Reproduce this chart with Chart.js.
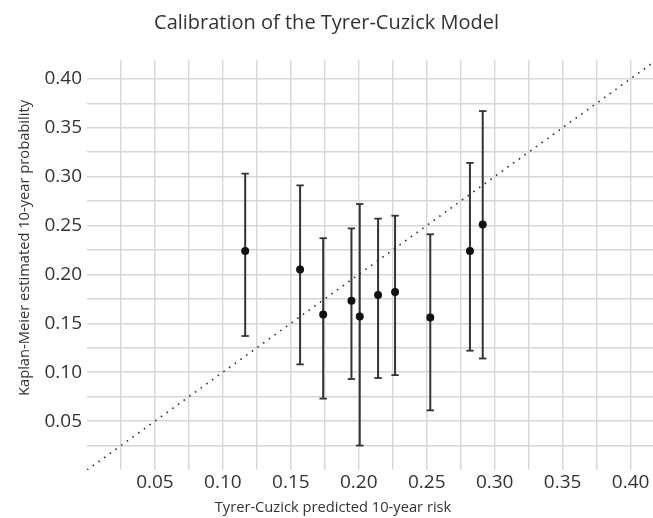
<!DOCTYPE html>
<html>
<head>
<meta charset="utf-8">
<script src="https://cdn.jsdelivr.net/npm/chart.js@4.4.0/dist/chart.umd.min.js"></script>
<style>
  html, body { margin: 0; padding: 0; background: #fff; }
  #wrap { width: 653px; height: 518px; }
</style>
</head>
<body>
<div id="wrap"><canvas id="calChart" width="653" height="518"></canvas></div>
<script>
// values
const predictedRisk = [0.1164, 0.1568, 0.1738, 0.1946, 0.2007, 0.2142, 0.2267, 0.2526, 0.2818, 0.2912];
const kmProbability = [0.224, 0.205, 0.159, 0.173, 0.157, 0.179, 0.182, 0.156, 0.224, 0.251];
const ciLower = [0.137, 0.108, 0.073, 0.093, 0.025, 0.094, 0.097, 0.061, 0.122, 0.114];
const ciUpper = [0.303, 0.291, 0.237, 0.247, 0.272, 0.257, 0.260, 0.241, 0.314, 0.367];

const xTickValues = [0.025, 0.05, 0.075, 0.10, 0.125, 0.15, 0.175, 0.20, 0.225, 0.25, 0.275, 0.30, 0.325, 0.35, 0.375, 0.40];
const xTickLabels = ['', '0.05', '', '0.10', '', '0.15', '', '0.20', '', '0.25', '', '0.30', '', '0.35', '', '0.40'];
const yTickValues = [0.025, 0.05, 0.075, 0.10, 0.125, 0.15, 0.175, 0.20, 0.225, 0.25, 0.275, 0.30, 0.325, 0.35, 0.375, 0.40];
const yTickLabels = ['', '0.05', '', '0.10', '', '0.15', '', '0.20', '', '0.25', '', '0.30', '', '0.35', '', '0.40'];

const chartTitle = 'Calibration of the Tyrer-Cuzick Model';
const xAxisTitle = 'Tyrer-Cuzick predicted 10-year risk';
const yAxisTitle = 'Kaplan-Meier estimated 10-year probability';

const identityLine = [0, 0.42];

const ink = '#333333';
const gridColor = '#d6d6d6';

// error bars: one segment per point, null breaks the line between them
let errorBarData = [];
predictedRisk.map((x, i) => {
    errorBarData.push({ x: x, y: ciLower[i] });
    errorBarData.push({ x: x, y: ciUpper[i] });
    errorBarData.push({ x: x, y: null });
});

// axis titles sit off-centre from the plot area in the original
const axisTitles = {
    id: 'axisTitles',
    afterDraw(chart) {
        const ctx = chart.ctx;
        ctx.save();
        ctx.fillStyle = ink;
        ctx.font = '14.7px "Open Sans"';
        ctx.textAlign = 'center';
        ctx.textBaseline = 'middle';
        ctx.fillText(xAxisTitle, 333, 508);
        ctx.translate(25, 248);
        ctx.rotate(-Math.PI / 2);
        ctx.fillText(yAxisTitle, 0, 0);
        ctx.restore();
    }
};

function drawChart(){
    Chart.defaults.font.family = '"Open Sans", sans-serif';
    Chart.defaults.color = ink;

    new Chart(document.getElementById('calChart'), {
        type: 'scatter',
        data: {
            datasets: [
                {
                    label: 'Observed',
                    data: predictedRisk.map((x, i) => ({ x: x, y: kmProbability[i] })),
                    pointRadius: 4,
                    pointBackgroundColor: '#111111',
                    pointBorderWidth: 0
                },
                {
                    label: '95% CI',
                    data: errorBarData,
                    showLine: true,
                    spanGaps: false,
                    borderColor: ink,
                    borderWidth: 2,
                    pointStyle: 'line',
                    pointRadius: 3.7,
                    pointBorderWidth: 1.8,
                    pointBorderColor: ink
                },
                {
                    label: 'Perfect calibration',
                    data: identityLine.map(v => ({ x: v, y: v })),
                    showLine: true,
                    borderColor: ink,
                    borderWidth: 1.6,
                    borderDash: [1.6, 5.4],
                    pointRadius: 0
                }
            ]
        },
        options: {
            responsive: false,
            animation: false,
            layout: { padding: 0, autoPadding: false },
            plugins: {
                legend: { display: false },
                tooltip: { enabled: false },
                title: {
                    display: true,
                    text: chartTitle,
                    color: ink,
                    font: { family: '"Open Sans"', size: 20, weight: 'normal' },
                    padding: { top: 11, bottom: 25 }
                }
            },
            scales: {
                x: {
                    type: 'linear',
                    min: 0,
                    max: 0.4165,
                    afterBuildTicks: s => { s.ticks = xTickValues.map(v => ({ value: v })); },
                    afterFit: s => { s.height = 48; s.paddingLeft = 0; s.paddingRight = 0; },
                    grid: { color: gridColor, lineWidth: 1.4, drawTicks: false },
                    border: { display: false },
                    ticks: {
                        autoSkip: false,
                        maxRotation: 0,
                        padding: 1,
                        color: ink,
                        font: { size: 19 },
                        callback: (v, i) => xTickLabels[i]
                    }
                },
                y: {
                    type: 'linear',
                    min: 0,
                    max: 0.4192,
                    afterBuildTicks: s => { s.ticks = yTickValues.map(v => ({ value: v })); },
                    afterFit: s => { s.width = 87; s.paddingTop = 0; s.paddingBottom = 0; },
                    grid: { color: gridColor, lineWidth: 1.4, drawTicks: false },
                    border: { display: false },
                    ticks: {
                        autoSkip: false,
                        padding: 5,
                        color: ink,
                        font: { size: 19 },
                        callback: (v, i) => yTickLabels[i]
                    }
                }
            }
        },
        plugins: [axisTitles]
    });
}

document.fonts.load('19px "Open Sans"').then(drawChart, drawChart);
</script>
</body>
</html>
